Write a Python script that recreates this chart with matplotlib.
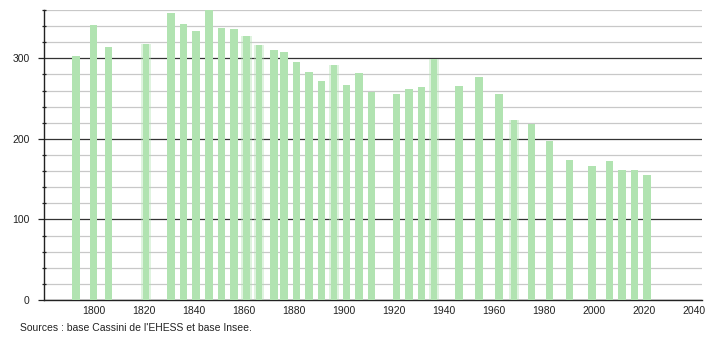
import matplotlib.pyplot as plt
from matplotlib.ticker import MultipleLocator

plt.rcParams['font.family'] = ['Liberation Sans', 'DejaVu Sans']

# Data
years = [1793, 1800, 1806, 1821, 1831, 1836, 1841, 1846, 1851, 1856, 1861, 1866,
         1872, 1876, 1881, 1886, 1891, 1896, 1901, 1906, 1911, 1921, 1926, 1931,
         1936, 1946, 1954, 1962, 1968, 1975, 1982, 1990, 1999, 2006, 2011, 2016, 2021]
population = [303, 341, 314, 318, 356, 343, 334, 360, 338, 336, 328, 317,
              310, 308, 295, 283, 272, 292, 267, 282, 258, 256, 262, 264,
              299, 266, 277, 256, 223, 219, 198, 174, 166, 172, 161, 161, 155]
soft_years = [1821, 1861, 1866, 1896, 1936, 1968]

bar_color = '#b1e3b1'

fig = plt.figure(figsize=(7.1, 3.4), dpi=100)
ax = fig.add_axes([43.5 / 710, 40 / 340, (702 - 43.5) / 710, 290 / 340])

for y, p in zip(years, population):
    if y in soft_years:
        # fuzzy-looking bars as in the reference
        ax.bar(y, p, width=4.2, color=bar_color, alpha=0.4, zorder=3, linewidth=0)
        ax.bar(y, p, width=2.6, color=bar_color, zorder=3, linewidth=0)
    else:
        ax.bar(y, p, width=3.0, color=bar_color, zorder=3, linewidth=0)

ax.set_xlim(1780, 2043)
ax.set_ylim(0, 360)

ax.yaxis.set_major_locator(MultipleLocator(100))
ax.yaxis.set_minor_locator(MultipleLocator(20))
ax.set_xticks(range(1800, 2041, 20))

# Gridlines
ax.grid(axis='y', which='minor', color='#c8c8c8', linewidth=0.9, zorder=1)
ax.grid(axis='y', which='major', color='#333333', linewidth=0.9, zorder=2)

ax.tick_params(axis='y', which='major', direction='out', length=4, width=0.9,
               labelsize=7.5, pad=6, colors='#222222')
ax.tick_params(axis='y', which='minor', direction='inout', length=3, width=0.9,
               colors='#222222')
ax.tick_params(axis='x', which='both', length=0, labelsize=7.5, pad=4,
               colors='#222222')

# Remove borders on right and top sides
for side in ['top', 'right']:
    ax.spines[side].set_visible(False)
ax.spines['left'].set_color('#222222')
ax.spines['bottom'].set_color('#222222')
ax.spines['left'].set_linewidth(1.0)
ax.spines['bottom'].set_linewidth(1.0)

fig.text(20 / 710, 1 - 328 / 340, "Sources : base Cassini de l'EHESS et base Insee.",
         fontsize=7.5, va='center', ha='left', color='#222222')

plt.savefig('out.png', dpi=100)
